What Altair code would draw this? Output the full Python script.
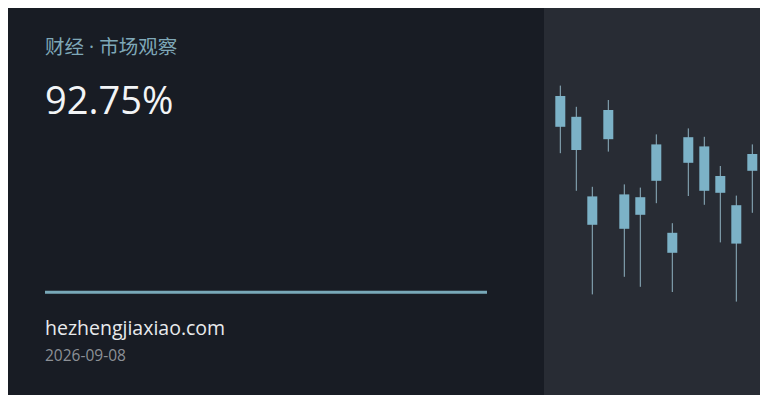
import altair as alt
import pandas as pd

# Candles (index, open, high, low, close)
idx = list(range(13))
opens = [96.0, 90.8, 70.9, 92.5, 71.4, 70.7, 83.9, 61.8, 85.7, 83.4, 76.0, 68.7, 81.5]
closes = [88.3, 82.5, 63.8, 85.2, 62.8, 66.3, 74.8, 56.8, 79.3, 72.3, 71.8, 59.1, 77.3]
highs = [98.6, 93.3, 73.3, 95.0, 73.9, 73.1, 86.4, 64.2, 87.9, 85.8, 78.5, 71.1, 83.9]
lows = [81.7, 72.3, 46.4, 82.1, 50.8, 48.3, 69.2, 47.0, 71.0, 68.8, 59.4, 44.6, 66.8]

title_text = ["财经 · 市场观察"]
value_text = ["92.75%"]
site_text = ["hezhengjiaxiao.com"]
date_text = ["2026-09-08"]

df = pd.DataFrame({"i": idx, "open": opens, "close": closes, "high": highs, "low": lows})

# the page adds an 8px margin; the chart covers the inner area
M = 8
W, H = 768 - 2 * M, 403 - 2 * M
BG = "#181c24"
PANEL = "#282c34"
ACCENT = "#7cb2c7"

xs = alt.Scale(domain=[0, 12], range=[560.3 - M, 752.3 - M], nice=False, zero=False, padding=0)
ys = alt.Scale(domain=[40, 100], range=[320 - M, 80 - M], nice=False, zero=False, padding=0)

one = pd.DataFrame({"k": [0]})

panel = alt.Chart(one).mark_rect(color=PANEL).encode(
    x=alt.value(544 - M), x2=alt.value(W), y=alt.value(0), y2=alt.value(H)
)

wicks = alt.Chart(df).mark_rule(color="#8fb3c2", strokeWidth=1).encode(
    x=alt.X("i:Q", scale=xs, axis=None),
    y=alt.Y("low:Q", scale=ys, axis=None),
    y2="high:Q",
)
bodies = alt.Chart(df).mark_bar(color=ACCENT, size=10).encode(
    x=alt.X("i:Q", scale=xs, axis=None),
    y=alt.Y("open:Q", scale=ys, axis=None),
    y2="close:Q",
)

line = alt.Chart(one).mark_rule(color="#78a8b8", strokeWidth=3).encode(
    x=alt.value(45 - M), x2=alt.value(487 - M), y=alt.value(292.3 - M)
)

def txt(values, y, size, color, font):
    d = pd.DataFrame({"t": values})
    return alt.Chart(d).mark_text(
        align="left", baseline="alphabetic", fontSize=size, color=color, font=font
    ).encode(x=alt.value(45 - M), y=alt.value(y - M), text="t:N")

title = txt(title_text, 53.5, 19.5, "#7fa8b8", "Open Sans, Noto Sans CJK SC")
value = txt(value_text, 114, 38, "#f2f4f6", "Open Sans")
site = txt(site_text, 335, 19.5, "#e8eaec", "Open Sans")
date = txt(date_text, 361, 15.5, "#8c9096", "Open Sans")

chart = alt.layer(panel, wicks, bodies, line, title, value, site, date).properties(
    width=W, height=H, background=BG, padding=0,
    autosize=alt.AutoSizeParams(type="none"),
).configure_view(stroke=None)

chart.save("out.html", embed_options={"renderer": "svg", "actions": False})
